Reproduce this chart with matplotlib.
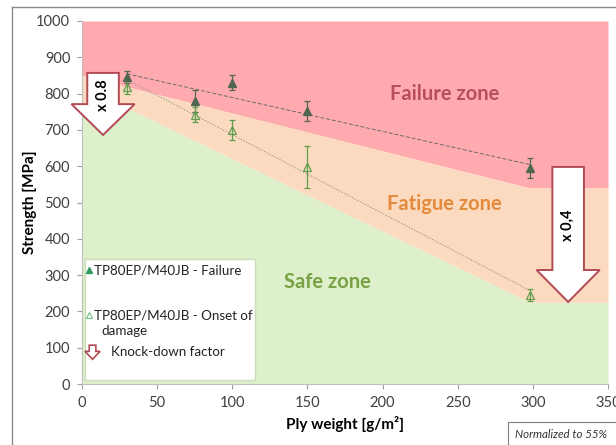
import numpy as np
import matplotlib
matplotlib.use("Agg")
import matplotlib.pyplot as plt
from matplotlib.patches import Polygon, Rectangle
from matplotlib.lines import Line2D

plt.rcParams['font.family'] = ['Lato', 'DejaVu Sans']

# ---------------- data ----------------
ply_weight = [30, 75, 100, 150, 298]
failure = [846, 780, 830, 752, 595]
failure_err = [17, 30, 20, 28, 27]
onset = [817, 742, 700, 598, 245]
onset_err = [18, 20, 27, 57, 17]

# zone boundaries
fatigue_top_x = [0, 298, 350]
fatigue_top_y = [850, 540, 540]
safe_top_x = [0, 30, 298, 350]
safe_top_y = [760, 760, 225, 225]

x_ticks = [0, 50, 100, 150, 200, 250, 300, 350]
y_ticks = [0, 100, 200, 300, 400, 500, 600, 700, 800, 900, 1000]

legend_labels = ["TP80EP/M40JB - Failure", "TP80EP/M40JB - Onset of", "damage", "Knock-down factor"]
knockdown_labels = ["x 0.8", "x 0,4"]

# ---------------- colours ----------------
PINK = "#FFAAAE"
PEACH = "#FCDABF"
GREEN = "#DDEFCB"
ARROW_EDGE = "#B24A55"
FAIL_C = "#50654F"
ONSET_C = "#5E9E4C"

fig = plt.figure(figsize=(6.16, 4.45), dpi=100)
ax = fig.add_axes([82/616, 1-384/445, (608-82)/616, (384-21)/445])
ax.set_xlim(0, 350)
ax.set_ylim(0, 1000)

# zones
grid = np.array(sorted(set(fatigue_top_x) | set(safe_top_x)), dtype=float)
f_top = np.interp(grid, fatigue_top_x, fatigue_top_y)
s_top = np.interp(grid, safe_top_x, safe_top_y)
ax.fill_between(grid, f_top, 1000, color=PINK, lw=0, zorder=0)
ax.fill_between(grid, s_top, f_top, color=PEACH, lw=0, zorder=0)
ax.fill_between(grid, 0, s_top, color=GREEN, lw=0, zorder=0)

# trend lines (linear fits)
xs = np.array([min(ply_weight), max(ply_weight)], dtype=float)
pf = np.polyfit(ply_weight, failure, 1)
po = np.polyfit(ply_weight, onset, 1)
ax.plot(xs, np.polyval(pf, xs), ls=(0, (4, 2)), color="#6b6b6b", lw=0.7, zorder=2)
ax.plot(xs, np.polyval(po, xs), ls=(0, (1.5, 1.5)), color="#999999", lw=0.7, zorder=2)

# data
ax.errorbar(ply_weight, failure, yerr=failure_err, fmt='^', color=FAIL_C,
            ms=6, capsize=2.5, elinewidth=0.9, capthick=0.9, zorder=4)
ax.errorbar(ply_weight, onset, yerr=onset_err, fmt='^', color=ONSET_C, mfc='none',
            mec=ONSET_C, ms=6, mew=0.9, capsize=2.5, elinewidth=0.9, capthick=0.9, zorder=4)

# knock-down arrows
def block_arrow(cx, top, head, tip, shaft_hw, head_hw, **kw):
    pts = [(cx - shaft_hw, top), (cx + shaft_hw, top), (cx + shaft_hw, head),
           (cx + head_hw, head), (cx, tip), (cx - head_hw, head), (cx - shaft_hw, head)]
    p = Polygon(pts, closed=True, **kw)
    ax.add_patch(p)

arrow_cx = [14, 323.5]
arrow_top = [857, 598]
arrow_head = [771, 314]
arrow_tip = [686, 226]
arrow_text_y = [795, 437]
for cx, t, h, tp, lab, ty in zip(arrow_cx, arrow_top, arrow_head, arrow_tip, knockdown_labels, arrow_text_y):
    block_arrow(cx, t, h, tp, 10.5, 21, facecolor="white", edgecolor=ARROW_EDGE,
                lw=1.4, zorder=5, clip_on=False, joinstyle='miter')
    ax.text(cx, ty, lab, rotation=90, ha='center', va='center', fontsize=10.5,
            fontweight='bold', color='black', zorder=6)

# zone labels
ax.text(241, 800, "Failure zone", ha='center', va='center', fontsize=14.5,
        fontweight='bold', color="#B8505C", zorder=3)
ax.text(241, 496, "Fatigue zone", ha='center', va='center', fontsize=14.5,
        fontweight='bold', color="#E38A3C", zorder=3)
ax.text(163, 281, "Safe zone", ha='center', va='center', fontsize=14.5,
        fontweight='bold', color="#78A244", zorder=3)

# legend (manual)
ax.add_patch(Rectangle((2, 11), 113.3, 333, facecolor='white', edgecolor="#C9DDB8",
                       lw=1.0, zorder=6))
ax.plot([4.5], [314], marker='^', color="#2E9A5E", ms=4.5, zorder=7, clip_on=False)
ax.text(8.3, 314, legend_labels[0], fontsize=9.6, va='center', ha='left', color="#222222", zorder=7)
ax.plot([4.5], [190], marker='^', color="#6CBF7E", mfc='none', ms=4.5, mew=0.8, zorder=7)
ax.text(8.3, 190, legend_labels[1], fontsize=9.6, va='center', ha='left', color="#222222", zorder=7)
ax.text(13, 146, legend_labels[2], fontsize=9.6, va='center', ha='left', color="#222222", zorder=7)
icon_cx = 7.0
pts = [(icon_cx - 2.2, 107), (icon_cx + 2.2, 107), (icon_cx + 2.2, 90), (icon_cx + 5, 90),
       (icon_cx, 68), (icon_cx - 5, 90), (icon_cx - 2.2, 90)]
ax.add_patch(Polygon(pts, closed=True, facecolor='white', edgecolor=ARROW_EDGE, lw=1.2, zorder=7))
ax.text(19.3, 88, legend_labels[3], fontsize=9.6, va='center', ha='left', color="#222222", zorder=7)

# axes styling
ax.set_xticks(x_ticks)
ax.set_yticks(y_ticks)
ax.tick_params(axis='both', colors="#A0A0A0", labelcolor="#404040", labelsize=10.5,
               length=3.5, width=0.8)
ax.tick_params(axis='y', pad=5)
ax.tick_params(axis='x', pad=5)
for s in ['top', 'right']:
    ax.spines[s].set_visible(False)
for s in ['left', 'bottom']:
    ax.spines[s].set_color("#BFBFBF")
    ax.spines[s].set_linewidth(0.8)
ax.set_xlabel("Ply weight [g/m²]", fontsize=11, fontweight='bold')
ax.set_ylabel("Strength [MPa]", fontsize=11, fontweight='bold')
ax.yaxis.set_label_coords((37 - 82) / 526, 0.5)
ax.xaxis.set_label_coords(0.5, (384 - 416) / 363)

# outer frame
fig.add_artist(Line2D([12/616, 1.0], [1-7/445, 1-7/445], transform=fig.transFigure,
                      color="#8C8C8C", lw=1.0))
fig.add_artist(Line2D([12/616, 12/616], [0, 1-7/445], transform=fig.transFigure,
                      color="#8C8C8C", lw=1.0))

# normalized note box
fig.add_artist(Rectangle((508/616, -0.05), 0.2, (445-422)/445 + 0.05, transform=fig.transFigure,
                         facecolor='white', edgecolor="#808080", lw=0.8))
fig.text(515/616, 1-434/445, "Normalized to 55%", fontsize=8.3, style='italic',
         color="#333333", ha='left', va='center')

fig.savefig("out.png", dpi=100)
